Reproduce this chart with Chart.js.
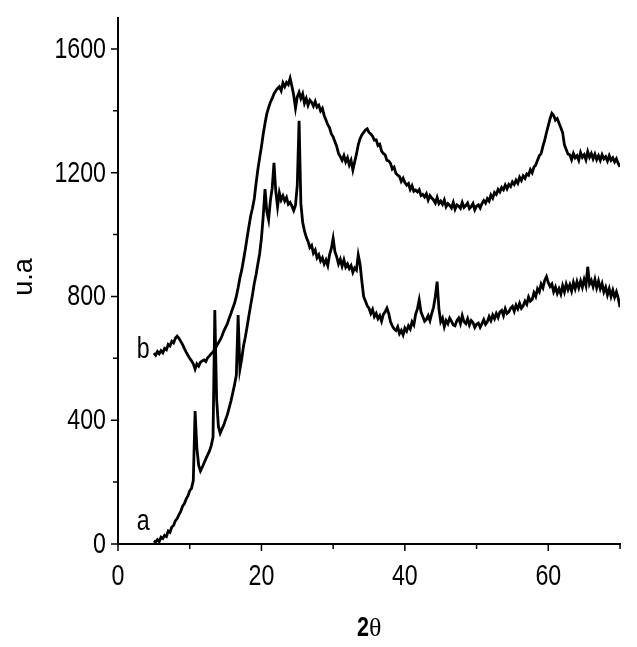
<!DOCTYPE html>
<html>
<head>
<meta charset="utf-8">
<script src="https://cdn.jsdelivr.net/npm/chart.js@4.4.1/dist/chart.umd.min.js"></script>
<style>
    html, body { margin: 0; padding: 0; background: #fff; }
    #contenedor { width: 637px; height: 647px; }
</style>
</head>
<body>
<div id="contenedor"><canvas id="xrdChart" width="637" height="647"></canvas></div>
<script>
// Difractogramas: un valor cada 0.25 grados desde 5 hasta 70
const anguloInicial = 5;
const pasoAngulo = 0.25;

const intensidadA = [
    10, 6, 14, 8,
    22, 18, 28, 24,
    42, 38, 55, 60,
    75, 82, 95, 105,
    122, 130, 145, 155,
    172, 180, 205, 430,
    310, 255, 236, 248,
    262, 275, 288, 300,
    318, 345, 756, 470,
    380, 358, 372, 385,
    402, 418, 440, 462,
    488, 515, 545, 740,
    565, 598, 640, 668,
    702, 738, 772, 805,
    842, 870, 905, 938,
    988, 1060, 1147, 1075,
    1048, 1110, 1150, 1232,
    1140, 1090, 1135, 1112,
    1125, 1108, 1120, 1098,
    1104, 1092, 1078, 1095,
    1160, 1368, 1100, 1040,
    1012, 992, 978, 958,
    965, 940, 950, 925,
    935, 915, 925, 905,
    918, 900, 935, 955,
    988, 945, 928, 905,
    920, 898, 918, 895,
    905, 890, 900, 878,
    892, 885, 934, 905,
    850, 800, 785, 770,
    762, 745, 758, 735,
    745, 728, 738, 720,
    742, 750, 762, 745,
    718, 705, 695, 690,
    702, 680, 690, 676,
    698, 688, 705, 695,
    718, 708, 742, 760,
    789, 750, 735, 720,
    726, 738, 722, 745,
    765, 800, 848, 760,
    718, 730, 702, 722,
    712, 730, 720, 708,
    705, 722, 730, 712,
    738, 718, 712, 728,
    708, 722, 716, 700,
    710, 714, 700, 712,
    725, 710, 718, 735,
    722, 740, 728, 745,
    732, 750, 755, 738,
    760, 745, 750, 762,
    768, 752, 772, 760,
    778, 762, 770, 785,
    775, 798, 785, 790,
    812, 800, 825, 815,
    840, 828, 852, 864,
    845, 832, 840, 815,
    830, 810, 825, 808,
    835, 815, 840, 822,
    838, 818, 845, 825,
    848, 828, 850, 830,
    855, 835, 896, 840,
    852, 832, 855, 828,
    850, 825, 842, 815,
    830, 805, 825, 800,
    820, 798, 815, 795,
    765
];

const intensidadB = [
    617, 610, 622, 615,
    625, 618, 632, 628,
    645, 640, 655, 650,
    665, 672, 665, 655,
    645, 632, 620, 610,
    600, 592, 582, 565,
    582, 575, 588, 592,
    595, 590, 602, 608,
    615, 620, 630, 640,
    650, 660, 672, 688,
    700, 712, 730, 745,
    762, 778, 800, 828,
    860, 885, 918, 952,
    990, 1025, 1060, 1085,
    1115, 1165, 1210, 1248,
    1284, 1325, 1360, 1390,
    1410, 1428, 1440, 1455,
    1465, 1472, 1478, 1465,
    1490, 1478, 1492, 1485,
    1505, 1480, 1450, 1409,
    1445, 1460, 1440, 1455,
    1425, 1440, 1418, 1435,
    1428, 1415, 1430, 1412,
    1418, 1400, 1408, 1385,
    1370, 1355, 1345, 1325,
    1316, 1300, 1285, 1262,
    1252, 1240, 1255, 1235,
    1248, 1225, 1240, 1209,
    1235, 1260, 1290, 1310,
    1322, 1330, 1338, 1342,
    1330, 1325, 1318, 1305,
    1306, 1288, 1292, 1270,
    1262, 1258, 1240, 1238,
    1230, 1212, 1218, 1198,
    1192, 1188, 1172, 1182,
    1168, 1160, 1165, 1146,
    1158, 1140, 1144, 1138,
    1145, 1126, 1130, 1122,
    1132, 1112, 1126, 1118,
    1112, 1102, 1120, 1100,
    1108, 1098, 1112, 1090,
    1100, 1094, 1086, 1104,
    1082, 1096, 1092, 1085,
    1104, 1088, 1094, 1102,
    1084, 1090, 1100, 1080,
    1092, 1096, 1086, 1100,
    1110, 1102, 1116, 1108,
    1128, 1118, 1136, 1130,
    1146, 1138, 1152, 1145,
    1160, 1148, 1162, 1155,
    1170, 1162, 1176, 1166,
    1185, 1175, 1190, 1182,
    1196, 1192, 1210, 1200,
    1218, 1225, 1240, 1255,
    1262, 1285, 1305, 1330,
    1352, 1375, 1392, 1385,
    1370, 1375, 1360, 1345,
    1330, 1290, 1275, 1260,
    1258, 1242, 1262, 1248,
    1255, 1240, 1265, 1250,
    1258, 1242, 1268, 1250,
    1262, 1245, 1260, 1242,
    1255, 1240, 1258, 1245,
    1252, 1238, 1255, 1240,
    1248, 1235, 1245, 1230,
    1219
];

// Marcas de los ejes
const ticksX = [0, 20, 40, 60];
const ticksXMenores = [10, 30, 50, 70];
const ticksY = [0, 400, 800, 1200, 1600];
const ticksYMenores = [200, 600, 1000, 1400];

// Etiquetas de cada curva: [texto, 2θ, intensidad]
const etiquetasCurvas = [['a', 3.5, 71], ['b', 3.5, 627]];

const angulos = intensidadA.map((_, i) => anguloInicial + i * pasoAngulo);

const fuente = '"Liberation Sans", Arial, sans-serif';
const estrecho = 0.8; // la figura usa una letra estrecha tipo Arial Narrow

// Texto estrecho: se escala sólo en horizontal
function textoEstrecho(ctx, txt, px, py, align) {
    ctx.save();
    ctx.translate(px, py);
    ctx.scale(estrecho, 1);
    ctx.textAlign = align;
    ctx.fillText(txt, 0, 0);
    ctx.restore();
}

// Plugin para dibujar marcas, números, títulos y letras de las curvas
const ejesPlugin = {
    id: 'ejesXRD',
    afterDraw(chart) {
        const { ctx, scales: { x, y } } = chart;
        const base = y.getPixelForValue(0);
        const izq = x.getPixelForValue(0);
        ctx.save();
        ctx.strokeStyle = '#000';
        ctx.lineWidth = 1.5;
        ctx.beginPath();
        ticksX.forEach(v => { const p = x.getPixelForValue(v); ctx.moveTo(p, base); ctx.lineTo(p, base + 7); });
        ticksXMenores.forEach(v => { const p = x.getPixelForValue(v); ctx.moveTo(p, base); ctx.lineTo(p, base + 5); });
        ticksY.forEach(v => { const p = y.getPixelForValue(v); ctx.moveTo(izq, p); ctx.lineTo(izq - 7, p); });
        ticksYMenores.forEach(v => { const p = y.getPixelForValue(v); ctx.moveTo(izq, p); ctx.lineTo(izq - 5, p); });
        ctx.stroke();

        ctx.fillStyle = '#000';
        ctx.textBaseline = 'middle';
        ctx.font = '29px ' + fuente;
        ticksX.forEach(v => textoEstrecho(ctx, String(v), x.getPixelForValue(v), base + 33, 'center'));
        ticksY.forEach(v => textoEstrecho(ctx, String(v), izq - 12, y.getPixelForValue(v) + 1, 'right'));

        etiquetasCurvas.forEach(([txt, ax, ay]) => {
            textoEstrecho(ctx, txt, x.getPixelForValue(ax), y.getPixelForValue(ay), 'center');
        });

        // Título del eje Y
        ctx.save();
        ctx.translate(25, 277);
        ctx.rotate(-Math.PI / 2);
        ctx.textAlign = 'center';
        ctx.font = '27px ' + fuente;
        ctx.fillText('u.a', 0, 0);
        ctx.restore();

        // Título del eje X
        ctx.font = 'bold 27px ' + fuente;
        textoEstrecho(ctx, '2', 369, 629, 'right');
        ctx.textAlign = 'left';
        ctx.font = '26px "Liberation Serif", "Times New Roman", serif';
        ctx.fillText('θ', 369, 629);
        ctx.restore();
    }
};

const ctx = document.getElementById('xrdChart').getContext('2d');
new Chart(ctx, {
    type: 'line',
    data: {
        datasets: [
            {
                label: 'a',
                data: angulos.map((a, i) => ({ x: a, y: intensidadA[i] })),
                borderColor: '#000',
                borderWidth: 2.8,
                pointRadius: 0,
                tension: 0
            },
            {
                label: 'b',
                data: angulos.map((a, i) => ({ x: a, y: intensidadB[i] })),
                borderColor: '#000',
                borderWidth: 2.8,
                pointRadius: 0,
                tension: 0
            }
        ]
    },
    options: {
        responsive: false,
        animation: false,
        layout: { padding: { left: 0, right: 17, top: 18, bottom: 53 } },
        plugins: { legend: { display: false }, tooltip: { enabled: false } },
        scales: {
            x: {
                type: 'linear',
                min: 0,
                max: 70,
                grid: { display: false },
                border: { display: true, color: '#000', width: 2 },
                afterBuildTicks: scale => { scale.ticks = ticksX.map(v => ({ value: v })); },
                afterFit: scale => { scale.height = 50; },
                ticks: { display: false }
            },
            y: {
                min: 0,
                max: 1700,
                grid: { display: false },
                border: { display: true, color: '#000', width: 2 },
                afterBuildTicks: scale => { scale.ticks = ticksY.map(v => ({ value: v })); },
                afterFit: scale => { scale.width = 118; },
                ticks: { display: false }
            }
        }
    },
    plugins: [ejesPlugin]
});
</script>
</body>
</html>
